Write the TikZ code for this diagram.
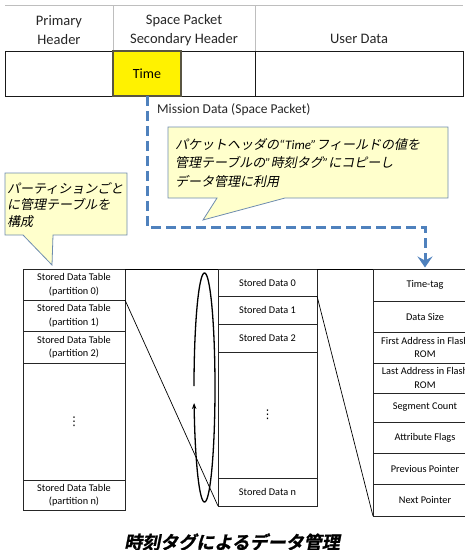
\documentclass[tikz,border=0pt]{standalone}
\usepackage{fontspec}
\setmainfont{Carlito}
\newfontfamily\cjkit[FakeSlant=0.2]{Noto Sans CJK JP}
\newfontfamily\cjkbi[FakeSlant=0.2,FakeBold=1.2]{Noto Sans CJK JP Bold}
\newfontfamily\dejavu{DejaVu Sans}
\usetikzlibrary{arrows.meta}
\definecolor{dashblue}{RGB}{79,129,189}
\definecolor{callfill}{RGB}{255,255,204}
\definecolor{callline}{RGB}{110,140,175}
\definecolor{hdrgrey}{RGB}{190,190,190}
\begin{document}
\begin{tikzpicture}[x=1pt,y=-1pt,
  cell/.style={draw=black!85, line width=0.8pt, inner sep=0pt, outer sep=0pt, anchor=north west, align=center, font=\fontsize{10.3}{13.5}\selectfont},
  pcell/.style={draw=black!90, line width=1pt, inner sep=0pt, outer sep=0pt, anchor=north west},
  hcell/.style={inner sep=0pt, outer sep=0pt, anchor=north west},
  hdr/.style={align=center, font=\fontsize{14.5}{18.5}\selectfont, text=black!85},
  vdot/.style={font=\dejavu\fontsize{12}{12}\selectfont, inner sep=0pt},
  bluedash/.style={draw=dashblue, line width=3pt, dash pattern=on 10pt off 5pt},
  callout/.style={draw=callline, fill=callfill, line width=0.8pt},
  zoomline/.style={draw=black, line width=0.7pt}]
\useasboundingbox (0,0) rectangle (465,550);
\clip (0,0) rectangle (465,550);

% header row
\node[hcell, minimum width=108pt, minimum height=46pt] (h1) at (5,5) {};
\node[hcell, minimum width=142pt, minimum height=46pt] (h2) at (h1.north east) {};
\node[hcell, minimum width=208pt, minimum height=46pt] (h3) at (h2.north east) {};
\draw[hdrgrey, line width=0.8pt] (h1.north west) -- (h3.north east);
\draw[hdrgrey, line width=0.8pt] (h1.north east) -- (h1.south east);
\draw[hdrgrey, line width=0.8pt] (h2.north east) -- (h2.south east);
\node[hdr] (t1) at (59,30) {Primary\\Header};
\node[hdr] (t2) at (184,30) {Space Packet\\Secondary Header};
\node[hdr] (t3) at (359,39) {User Data};

% packet row
\node[pcell, minimum width=108pt, minimum height=45pt] (p1) at (5,51) {};
\node[pcell, minimum width=74pt, minimum height=45pt] (p2) at (181,51) {};
\node[pcell, minimum width=208pt, minimum height=45pt] (p3) at (p2.north east) {};
\node[pcell, minimum width=68pt, minimum height=45pt, fill=yellow, draw=black!75!yellow, line width=1.3pt, font=\fontsize{14}{16}\selectfont] (time) at (p1.north east) {Time};

\node[anchor=west, font=\fontsize{13.5}{16}\selectfont, text=black!85, inner sep=0pt] (md) at (157,110) {Mission Data (Space Packet)};

% left table
\node[cell, minimum width=102pt, minimum height=31pt] (L0) at (23,269) {Stored Data Table\\(partition 0)};
\node[cell, minimum width=102pt, minimum height=31pt] (L1) at (L0.south west) {Stored Data Table\\(partition 1)};
\node[cell, minimum width=102pt, minimum height=32pt] (L2) at (L1.south west) {Stored Data Table\\(partition 2)};
\node[cell, minimum width=102pt, minimum height=117pt] (L3) at (L2.south west) {};
\node[cell, minimum width=102pt, minimum height=30pt] (L4) at (L3.south west) {Stored Data Table\\(partition n)};
\node[vdot] (L3d) at (L3.center) {⋮};

% middle table
\node[cell, minimum width=99pt, minimum height=27pt] (M0) at (218,269) {Stored Data 0};
\node[cell, minimum width=99pt, minimum height=28pt] (M1) at (M0.south west) {Stored Data 1};
\node[cell, minimum width=99pt, minimum height=28pt] (M2) at (M1.south west) {Stored Data 2};
\node[cell, minimum width=99pt, minimum height=126pt] (M3) at (M2.south west) {};
\node[cell, minimum width=99pt, minimum height=28pt] (M4) at (M3.south west) {Stored Data n};
\node[vdot] (M3d) at (M3.center) {⋮};

% right table
\node[cell, minimum width=104pt, minimum height=32pt] (R0) at (373,269) {Time-tag};
\node[cell, minimum width=104pt, minimum height=31pt] (R1) at (R0.south west) {Data Size};
\node[cell, minimum width=104pt, minimum height=31pt] (R2) at (R1.south west) {First Address in Flash\\ROM};
\node[cell, minimum width=104pt, minimum height=30pt] (R3) at (R2.south west) {Last Address in Flash\\ROM};
\node[cell, minimum width=104pt, minimum height=29pt] (R4) at (R3.south west) {Segment Count};
\node[cell, minimum width=104pt, minimum height=31pt] (R5) at (R4.south west) {Attribute Flags};
\node[cell, minimum width=104pt, minimum height=31pt] (R6) at (R5.south west) {Previous Pointer};
\node[cell, minimum width=104pt, minimum height=32pt] (R7) at (R6.south west) {Next Pointer};

% zoom lines
\draw[zoomline] (L0.north east) -- (M0.north west);
\draw[zoomline] (L1.north east) -- (M4.south west);
\draw[zoomline] (M0.north east) -- (R0.north west);
\draw[zoomline] (M1.north east) -- (R7.south west);

% loop ellipse
\draw[line width=1.3pt, -{Stealth[length=6pt,width=4.5pt]}] plot[domain=180.75:532.2, samples=160, smooth] ({204.5+10.5*cos(\x)},{387.5+114.5*sin(\x)});

% dashed connector
\coordinate (bend) at (425,227);
\draw[bluedash, -{Stealth[length=11pt,width=15pt,inset=4pt]}, shorten >=1.5pt] (time.south) |- (bend) -- (R0.north);

% callout 1
\draw[callout] (168,127) -- (448,127) -- (448,198) -- (285,198) -- (203,220) -- (217,198) -- (168,198) -- cycle;
\node[anchor=west, align=left, inner sep=0pt, font=\fontsize{13}{18.5}\selectfont] (c1) at (175,163)
  {{\cjkit パケットヘッダの}{\itshape “Time”}{\cjkit フィールドの値を}\\
   {\cjkit 管理テーブルの}{\itshape ”}{\cjkit 時刻タグ}{\itshape ”}{\cjkit にコピーし}\\
   {\cjkit データ管理に利用}};

% callout 2
\draw[callout] (5,173) -- (127,173) -- (127,235) -- (53,235) -- (52,265) -- (23,235) -- (5,235) -- cycle;
\node[anchor=west, align=left, inner sep=0pt, font=\fontsize{13}{16.8}\selectfont] (c2) at (7,205)
  {{\cjkit パーティションごと}\\{\cjkit に管理テーブルを}\\{\cjkit 構成}};

% caption
\node[font=\fontsize{18}{20}\selectfont] (cap) at (232,542) {\cjkbi 時刻タグによるデータ管理};
\end{tikzpicture}
\end{document}
